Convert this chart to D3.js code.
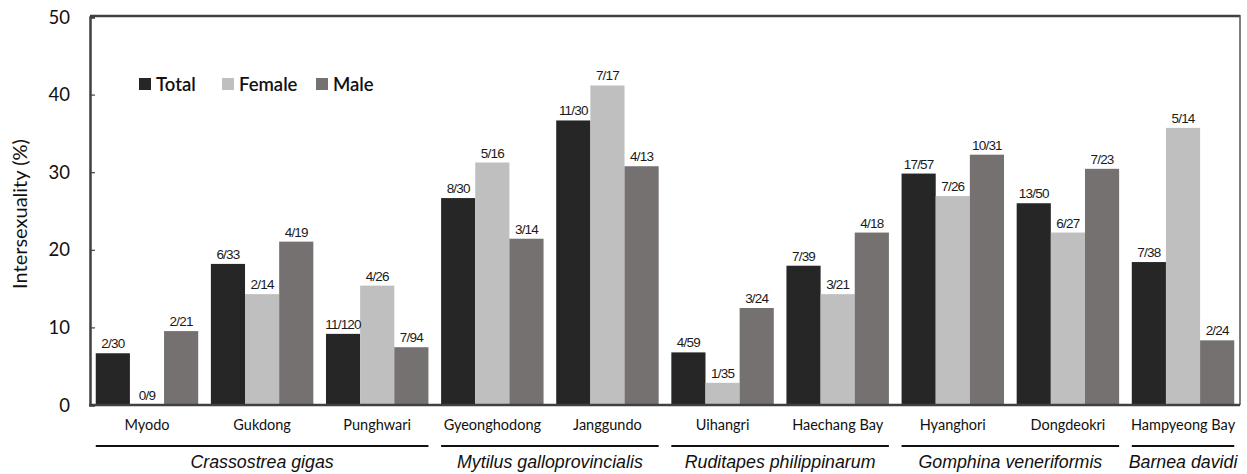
<!DOCTYPE html>
<html>
<head>
<meta charset="utf-8">
<script src="https://cdn.jsdelivr.net/npm/d3@7"></script>
<style>
  html, body { margin: 0; padding: 0; background: #fff; }
  svg { display: block; }
</style>
</head>
<body>
<svg id="chart" width="1247" height="474"></svg>
<script>
// Sampling sites, grouped by species
const sites = ["Myodo", "Gukdong", "Punghwari", "Gyeonghodong", "Janggundo",
               "Uihangri", "Haechang Bay", "Hyanghori", "Dongdeokri", "Hampyeong Bay"];
const species = [
  { name: "Crassostrea gigas", first: "Myodo", last: "Punghwari" },
  { name: "Mytilus galloprovincialis", first: "Gyeonghodong", last: "Janggundo" },
  { name: "Ruditapes philippinarum", first: "Uihangri", last: "Haechang Bay" },
  { name: "Gomphina veneriformis", first: "Hyanghori", last: "Dongdeokri" },
  { name: "Barnea davidi", first: "Hampyeong Bay", last: "Hampyeong Bay" }
];
const seriesNames = ["Total", "Female", "Male"];

// Intersex individuals / examined individuals, per site
const totalCounts  = [[2,30],[6,33],[11,120],[8,30],[11,30],[4,59],[7,39],[17,57],[13,50],[7,38]];
const femaleCounts = [[0,9],[2,14],[4,26],[5,16],[7,17],[1,35],[3,21],[7,26],[6,27],[5,14]];
const maleCounts   = [[2,21],[4,19],[7,94],[3,14],[4,13],[3,24],[4,18],[10,31],[7,23],[2,24]];

const yTicks = [0, 10, 20, 30, 40, 50];

const colors = { Total: "#262626", Female: "#bfbfbf", Male: "#767171" };

const countsBySeries = { Total: totalCounts, Female: femaleCounts, Male: maleCounts };
const rows = [];
sites.forEach((site, i) => {
  seriesNames.forEach(s => {
    const [n, N] = countsBySeries[s][i];
    rows.push({ site, series: s, n, N, pct: n / N * 100 });
  });
});

const svg = d3.select("#chart");
const plot = { left: 90, right: 1240, top: 17, bottom: 405 };

const x = d3.scaleBand().domain(sites)
  .range([plot.left, plot.right]).paddingInner(0.11).paddingOuter(0.05);
const xs = d3.scaleBand().domain(seriesNames).range([0, x.bandwidth()]);
const y = d3.scaleLinear().domain([0, 50]).range([plot.bottom, plot.top]);

// Bars
svg.append("g").selectAll("rect").data(rows).join("rect")
  .attr("x", d => x(d.site) + xs(d.series))
  .attr("width", xs.bandwidth())
  .attr("y", d => y(d.pct))
  .attr("height", d => y(0) - y(d.pct))
  .attr("fill", d => colors[d.series]);

// n/N labels above bars
svg.append("g").selectAll("text").data(rows).join("text")
  .attr("x", d => x(d.site) + xs(d.series) + xs.bandwidth() / 2)
  .attr("y", d => y(d.pct) - 5)
  .attr("text-anchor", "middle")
  .attr("font-family", "Liberation Sans, Arial, sans-serif")
  .attr("font-size", 13.5)
  .attr("letter-spacing", -0.8)
  .attr("fill", "#1a1a1a")
  .text(d => `${d.n}/${d.N}`);

// Frame: top and right borders
svg.append("line").attr("x1", plot.left).attr("x2", plot.right)
  .attr("y1", plot.top - 1).attr("y2", plot.top - 1)
  .attr("stroke", "#404040").attr("stroke-width", 2.5);
svg.append("line").attr("x1", plot.right).attr("x2", plot.right)
  .attr("y1", plot.top - 2).attr("y2", plot.bottom)
  .attr("stroke", "#555").attr("stroke-width", 1.5);

// Y axis
const yAxis = svg.append("g").attr("transform", `translate(${plot.left},0)`)
  .call(d3.axisRight(y).tickValues(yTicks).tickSize(5).tickFormat(""));
yAxis.select(".domain").attr("stroke", "#404040").attr("stroke-width", 2.5);
yAxis.selectAll(".tick line").attr("stroke", "#404040").attr("stroke-width", 1.2);

svg.append("g").selectAll("text").data(yTicks).join("text")
  .attr("x", 70).attr("y", d => y(d))
  .attr("dy", "0.36em")
  .attr("text-anchor", "end")
  .attr("font-family", "Lato, sans-serif")
  .attr("font-size", 18.5)
  .attr("fill", "#111")
  .text(d => d);

svg.append("text")
  .attr("transform", `translate(27,${(plot.top + plot.bottom) / 2 + 3}) rotate(-90)`)
  .attr("text-anchor", "middle")
  .attr("font-family", "Lato, sans-serif")
  .attr("font-size", 20)
  .attr("fill", "#111")
  .text("Intersexuality (%)");

// X axis baseline
svg.append("line").attr("x1", plot.left - 1).attr("x2", plot.right)
  .attr("y1", plot.bottom).attr("y2", plot.bottom)
  .attr("stroke", "#404040").attr("stroke-width", 2.5);

// Site labels
svg.append("g").selectAll("text").data(sites).join("text")
  .attr("x", d => x(d) + x.bandwidth() / 2)
  .attr("y", 430)
  .attr("text-anchor", "middle")
  .attr("font-family", "Lato, sans-serif")
  .attr("font-size", 14.5)
  .attr("fill", "#111")
  .text(d => d);

// Species brackets and names
const sp = svg.append("g").selectAll("g").data(species).join("g");
sp.append("line")
  .attr("x1", d => x(d.first)).attr("x2", d => x(d.last) + x.bandwidth())
  .attr("y1", 446).attr("y2", 446)
  .attr("stroke", "#111").attr("stroke-width", 2);
sp.append("text")
  .attr("x", d => (x(d.first) + x(d.last) + x.bandwidth()) / 2)
  .attr("y", 468)
  .attr("text-anchor", "middle")
  .attr("font-family", "Liberation Sans, Arial, sans-serif")
  .attr("font-style", "italic")
  .attr("font-size", 17.8)
  .attr("fill", "#111")
  .text(d => d.name);

// Legend
const legendX = [139, 222, 316];
const lg = svg.append("g").selectAll("g").data(seriesNames).join("g")
  .attr("transform", (d, i) => `translate(${legendX[i]},78)`);
lg.append("rect").attr("width", 12).attr("height", 12).attr("y", 0)
  .attr("fill", d => colors[d]);
lg.append("text").attr("x", 17).attr("y", 6).attr("dy", "0.36em")
  .attr("font-family", "Lato, sans-serif")
  .attr("font-size", 18.5)
  .attr("font-weight", 600)
  .attr("fill", "#111")
  .text(d => d);
</script>
</body>
</html>
